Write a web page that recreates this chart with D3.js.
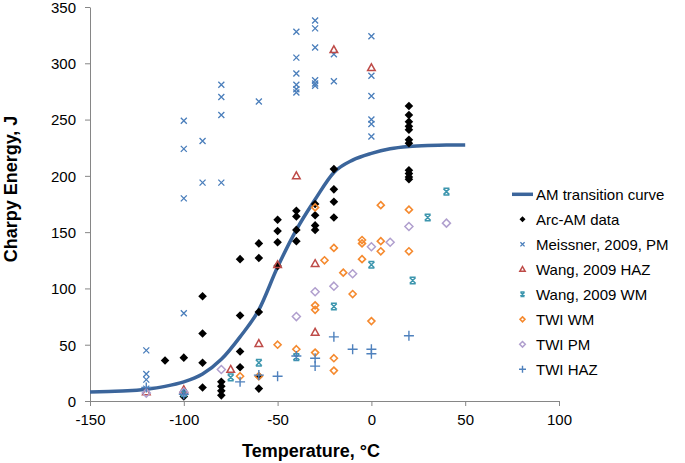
<!DOCTYPE html>
<html><head><meta charset="utf-8">
<script src="https://cdn.jsdelivr.net/npm/d3@7"></script>
<style>body{margin:0;background:#fff}svg{display:block;font-family:"Liberation Sans",Arial,sans-serif}</style>
</head><body><svg id="c" width="685" height="463"></svg>
<script>
const xTicks = [-150,-100,-50,0,50,100];
const yTicks = [0,50,100,150,200,250,300,350];
const curveT = [-150,-140,-130,-120,-110,-100,-90,-80,-70,-60,-50,-40,-30,-20,-10,0,10,20,30,40,50];
const curveE = [8,8.5,9,10.5,13,17,24,37,57,81,119,152,179,203,214,220,224,226,227,227.5,227.5];
const arcT = [-110,-100,-100,-100,-90,-90,-90,-90,-80,-80,-80,-80,-70,-70,-70,-70,-60,-60,-60,-60,-60,-50,-50,-50,-50,-40,-40,-40,-40,-30,-30,-30,-30,-20,-20,-20,-20,20,20,20,20,20,20,20,20,20,20,20];
const arcE = [36,38.5,4,7,93,60,34,12,17,13,9,5,126,76,44,30,140,127,79,22,11,161,151,141,120,169,164,152,142,175,165,156,152,206,188,177,163,262,254,248,244,241,232,229,205,202,199,197];
const meisT = [-120,-120,-120,-120,-100,-100,-100,-100,-90,-90,-80,-80,-80,-80,-60,-40,-40,-40,-40,-40,-40,-30,-30,-30,-30,-30,-30,-20,-20,0,0,0,0,0,0];
const meisE = [45,24,19,11,249,224,180,78,231,194,281,270,254,194,266,328,305,291,281,277,274,338,331,314,285,282,280,308,284,324,289,271,250,246,235];
const wHazT = [-120,-100,-75,-60,-50,-40,-30,-30,-20,0];
const wHazE = [8,10,28,51,121,200,122,61,312,296];
const wWmT = [-100,-75,-60,-40,-20,0,22,30,40];
const wWmE = [7,21,34,39,84,121,107,163,186];
const twiWmT = [-70,-60,-50,-40,-30,-30,-30,-30,-25,-20,-20,-20,-15,-10,-5,-5,-5,0,5,5,5,20,20];
const twiWmE = [22,22,50,46,172,85,81,43,125,136,38,27,114,95,143,140,126,71,174,142,133,170,133];
const twiPmT = [-120,-100,-80,-40,-30,-20,-10,0,10,20,40];
const twiPmE = [7,8,28,75,97,102,113,137,141,155,158];
const twiHazT = [-120,-100,-70,-60,-50,-40,-30,-30,-20,-10,0,0,20];
const twiHazE = [12,6,17,23,22,40,38,31,57,46,46,42,58];
const legendNames = ["AM transition curve","Arc-AM data","Meissner, 2009, PM","Wang, 2009 HAZ","Wang, 2009 WM","TWI WM","TWI PM","TWI HAZ"];

const svg = d3.select("#c");
const x = d3.scaleLinear().domain([-150,100]).range([90,559]);
const y = d3.scaleLinear().domain([0,350]).range([401,7]);
const axisCol = "#868686";

const xa = svg.append("g").attr("transform","translate(0,401)")
  .call(d3.axisBottom(x).tickValues(xTicks).tickFormat(d=>String(d)).tickSizeOuter(0).tickSizeInner(5).tickPadding(8));
const ya = svg.append("g").attr("transform","translate(90,0)")
  .call(d3.axisLeft(y).tickValues(yTicks).tickFormat(d=>String(d)).tickSizeOuter(0).tickSizeInner(5).tickPadding(9));
[xa,ya].forEach(a=>{
  a.selectAll("path,line").attr("stroke",axisCol).attr("stroke-width",1);
  a.selectAll("text").attr("fill","#000").style("font-size","15px").style("font-family","Liberation Sans, Arial, sans-serif");
});
ya.selectAll("text").attr("dy","0.36em");

svg.append("text").attr("x",311).attr("y",457).attr("text-anchor","middle")
  .style("font-size","18px").style("font-weight","bold").text("Temperature, °C");
svg.append("text").attr("transform","translate(17,189) rotate(-90)").attr("text-anchor","middle")
  .style("font-size","18px").style("font-weight","bold").text("Charpy Energy, J");

const curveCol = "#3b659b";
const line = d3.line().x(d=>x(d[0])).y(d=>y(d[1])).curve(d3.curveMonotoneX);
svg.append("path").datum(curveT.map((t,i)=>[t,curveE[i]]))
  .attr("d",line).attr("fill","none").attr("stroke",curveCol).attr("stroke-width",3.5);

function diamond(g,s,fill,stroke,sw){
  return g.append("path").attr("d",`M0,${-s}L${s},0L0,${s}L${-s},0Z`).attr("fill",fill).attr("stroke",stroke).attr("stroke-width",sw);
}
const markers = {
  arc:(g,k)=>diamond(g,4.3*k,"#000","none",0),
  meis:(g,k)=>g.append("path").attr("d",`M${-3*k},${-3*k}L${3*k},${3*k}M${-3*k},${3*k}L${3*k},${-3*k}`).attr("stroke","#4a7ebb").attr("stroke-width",1.3),
  whaz:(g,k)=>g.append("path").attr("d",`M0,${-4*k}L${3.8*k},${2.8*k}L${-3.8*k},${2.8*k}Z`).attr("fill","none").attr("stroke","#be4b48").attr("stroke-width",1.5),
  wwm:(g,k)=>g.append("path").attr("d",`M${-3*k},${-3*k}L${3*k},${3*k}M${-3*k},${3*k}L${3*k},${-3*k}M${-3*k},${-3.3*k}L${3*k},${-3.3*k}M${-3*k},${3.3*k}L${3*k},${3.3*k}`).attr("stroke","#3d96ae").attr("stroke-width",1.5),
  twiwm:(g,k)=>diamond(g,3.5*k,"none","#f58a2f",1.6),
  twipm:(g,k)=>diamond(g,4*k,"none","#b09fce",1.5),
  twihaz:(g,k)=>g.append("path").attr("d",`M${-5*k},0L${5*k},0M0,${-5*k}L0,${5*k}`).attr("stroke","#4f81bd").attr("stroke-width",1.4)
};
function plot(Ts,Es,key){
  Ts.forEach((t,i)=>{
    const g = svg.append("g").attr("transform",`translate(${x(t)},${y(Es[i])})`);
    markers[key](g,1);
  });
}
plot(arcT,arcE,"arc");
plot(meisT,meisE,"meis");
plot(wHazT,wHazE,"whaz");
plot(wWmT,wWmE,"wwm");
plot(twiWmT,twiWmE,"twiwm");
plot(twiPmT,twiPmE,"twipm");
plot(twiHazT,twiHazE,"twihaz");

const keys = [null,"arc","meis","whaz","wwm","twiwm","twipm","twihaz"];
legendNames.forEach((n,i)=>{
  const ly = 194.3 + i*25;
  if(i===0){
    svg.append("line").attr("x1",512).attr("x2",533).attr("y1",ly).attr("y2",ly).attr("stroke",curveCol).attr("stroke-width",3.5);
  } else {
    const g = svg.append("g").attr("transform",`translate(522.5,${ly})`);
    markers[keys[i]](g,0.7);
  }
  svg.append("text").attr("x",536).attr("y",ly+5.5).style("font-size","15px").text(n);
});
</script></body></html>
